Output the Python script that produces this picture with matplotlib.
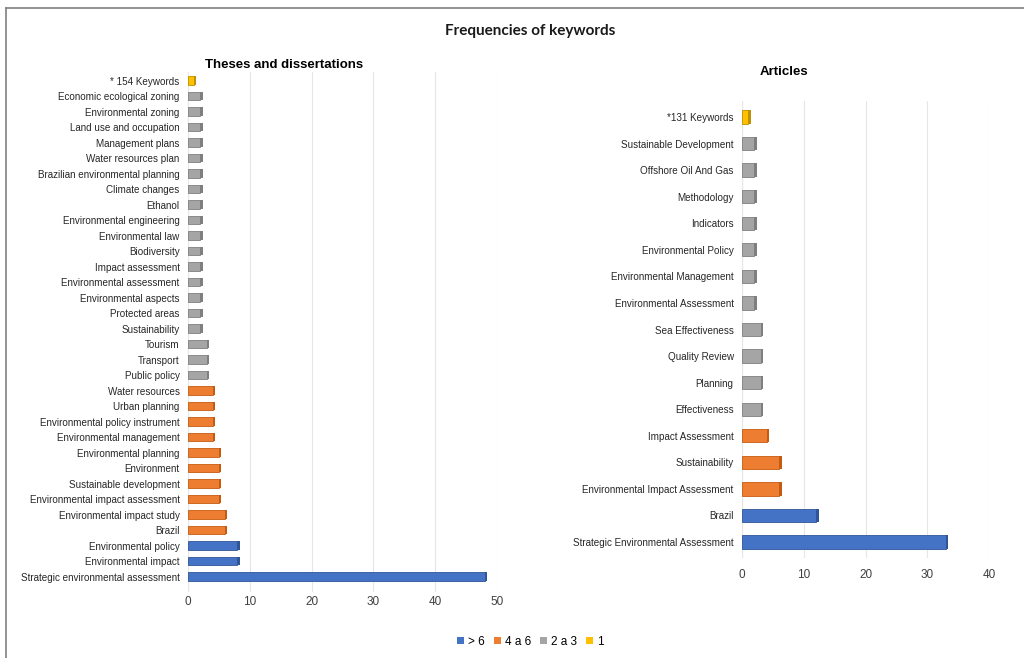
import matplotlib.pyplot as plt
from matplotlib.patches import Patch
from matplotlib.lines import Line2D

plt.rcParams['font.family'] = ['Liberation Sans', 'DejaVu Sans']

# keyword frequencies, top of the list first
theses_labels = [
    '* 154 Keywords', 'Economic ecological zoning', 'Environmental zoning',
    'Land use and occupation', 'Management plans', 'Water resources plan',
    'Brazilian environmental planning', 'Climate changes', 'Ethanol',
    'Environmental engineering', 'Environmental law', 'Biodiversity',
    'Impact assessment', 'Environmental assessment', 'Environmental aspects',
    'Protected areas', 'Sustainability', 'Tourism', 'Transport', 'Public policy',
    'Water resources', 'Urban planning', 'Environmental policy instrument',
    'Environmental management', 'Environmental planning', 'Environment',
    'Sustainable development', 'Environmental impact assessment',
    'Environmental impact study', 'Brazil', 'Environmental policy',
    'Environmental impact', 'Strategic environmental assessment',
]
theses_values = [1] + [2] * 16 + [3, 3, 3] + [4, 4, 4, 4] + [5, 5, 5, 5] + [6, 6] + [8, 8] + [48]

article_labels = [
    '*131 Keywords', 'Sustainable Development', 'Offshore Oil And Gas',
    'Methodology', 'Indicators', 'Environmental Policy',
    'Environmental Management', 'Environmental Assessment', 'Sea Effectiveness',
    'Quality Review', 'Planning', 'Effectiveness', 'Impact Assessment',
    'Sustainability', 'Environmental Impact Assessment', 'Brazil',
    'Strategic Environmental Assessment',
]
article_values = [1] + [2] * 7 + [3, 3, 3, 3] + [4] + [6, 6] + [12] + [33]

groups = ['> 6', '4 a 6', '2 a 3', '1']
colors = {'> 6': '#4472C4', '4 a 6': '#ED7D31', '2 a 3': '#A5A5A5', '1': '#FFC000'}
shades = {'> 6': '#2F5597', '4 a 6': '#C55A11', '2 a 3': '#7F7F7F', '1': '#BF9000'}


def group_of(v):
    if v > 6:
        return '> 6'
    if v >= 4:
        return '4 a 6'
    if v >= 2:
        return '2 a 3'
    return '1'


def draw_panel(ax, labels, values, xmax, height, depth, xpad):
    n = len(labels)
    ys = list(range(n - 1, -1, -1))
    for y, v in zip(ys, values):
        g = group_of(v)
        ax.barh(y, v, height=height, color=colors[g], edgecolor=shades[g],
                linewidth=0.6, zorder=3)
        # darker end face for the 3D look
        ax.barh(y, depth, left=v, height=height, color=shades[g],
                linewidth=0, zorder=3)
    ax.set_yticks(ys)
    ax.set_yticklabels(labels, fontsize=7.1, color='#262626')
    ax.set_xlim(0, xmax)
    ax.set_xticks(range(0, xmax + 1, 10))
    ax.tick_params(axis='x', labelsize=8.5, colors='#404040', length=0, pad=xpad)
    ax.tick_params(axis='y', length=0, pad=6)
    ax.grid(axis='x', color='#e6e6e6', linewidth=0.8, zorder=0)
    for s in ax.spines.values():
        s.set_visible(False)
    ax.axvline(0, color='#e6e6e6', linewidth=0.8, zorder=1)


fig = plt.figure(figsize=(10.24, 6.58), dpi=100)

ax1 = fig.add_axes([188 / 1024, 1 - 592 / 658, 309 / 1024, 520 / 658])
draw_panel(ax1, theses_labels, theses_values, 50, 0.55, 0.35, 3)
ax1.set_ylim(-1.0, len(theses_labels) - 0.45)
ax1.set_title('Theses and dissertations', fontsize=9.5, fontweight='bold',
              x=0.31, pad=3)

ax2 = fig.add_axes([742 / 1024, 1 - 558 / 658, 247 / 1024, 457 / 658])
draw_panel(ax2, article_labels, article_values, 40, 0.5, 0.4, 8)
ax2.set_ylim(-0.6, len(article_labels) - 0.4)
ax2.set_title('Articles', fontsize=9.5, fontweight='bold', x=0.17, pad=19)

fig.text(0.518, 0.953, 'Frequencies of keywords', fontsize=11, fontweight='bold',
         family=['Lato', 'DejaVu Sans'], ha='center', va='center', color='#1a1a1a')

handles = [Patch(facecolor=colors[g], edgecolor='none') for g in groups]
fig.legend(handles, groups, loc='center', bbox_to_anchor=(0.518, 0.025), ncol=4,
           frameon=False, fontsize=8.5, handlelength=0.6, handleheight=0.6,
           handletextpad=0.3, columnspacing=0.8)

# outer frame (top and left edges)
fig.add_artist(Line2D([6 / 1024, 1], [1 - 8 / 658, 1 - 8 / 658],
                      transform=fig.transFigure, color='#808080', linewidth=1.2))
fig.add_artist(Line2D([6 / 1024, 6 / 1024], [0, 1 - 8 / 658],
                      transform=fig.transFigure, color='#808080', linewidth=1.2))

fig.savefig('out.png', dpi=100)
